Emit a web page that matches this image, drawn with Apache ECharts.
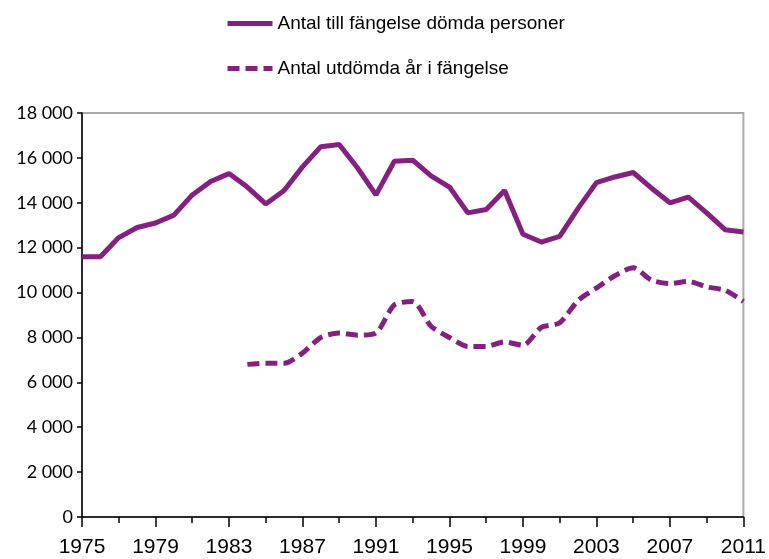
<!DOCTYPE html>
<html>
<head>
<meta charset="utf-8">
<script src="https://cdn.jsdelivr.net/npm/echarts@6/dist/echarts.min.js"></script>
<style>
  html, body { margin: 0; padding: 0; background: #fff; }
  #chart { width: 769px; height: 559px; }
</style>
</head>
<body>
<div id="chart"></div>
<script>
// years on the x axis
const years = [1975, 1976, 1977, 1978, 1979, 1980, 1981, 1982, 1983, 1984,
  1985, 1986, 1987, 1988, 1989, 1990, 1991, 1992, 1993, 1994,
  1995, 1996, 1997, 1998, 1999, 2000, 2001, 2002, 2003, 2004,
  2005, 2006, 2007, 2008, 2009, 2010, 2011]

// Antal till fängelse dömda personer (1975-2011)
const personer = [11600, 11600, 12450, 12900, 13100, 13450, 14350, 14950, 15300, 14700,
  13950, 14550, 15600, 16500, 16600, 15550, 14350, 15850, 15900, 15200,
  14700, 13550, 13700, 14550, 12600, 12250, 12500, 13750, 14900, 15150,
  15350, 14650, 14000, 14250, 13550, 12800, 12700]

// Antal utdömda år i fängelse (1984-2011)
const arYears = [1984, 1985, 1986, 1987, 1988, 1989, 1990, 1991, 1992, 1993,
  1994, 1995, 1996, 1997, 1998, 1999, 2000, 2001, 2002, 2003,
  2004, 2005, 2006, 2007, 2008, 2009, 2010, 2011]
const ar = [6800, 6850, 6850, 7300, 8000, 8200, 8100, 8200, 9450, 9600,
  8500, 8000, 7600, 7600, 7800, 7650, 8450, 8650, 9650, 10200,
  10750, 11100, 10550, 10400, 10500, 10250, 10100, 9600]

const purple = '#84207f'

const dom = echarts.init(document.getElementById('chart'))
const option = {
  animation: false,
  legend: {
    orient: 'vertical',
    left: 220,
    top: 9,
    itemWidth: 45,
    itemHeight: 20,
    itemGap: 26,
    itemStyle: { opacity: 0 },
    lineStyle: { width: 5 },
    textStyle: {
      fontFamily: 'Liberation Sans',
      fontSize: 19,
      color: '#000'
    },
    data: ['Antal till fängelse dömda personer', 'Antal utdömda år i fängelse']
  },
  grid: {
    left: 82,
    right: 24,
    top: 113,
    bottom: 42,
    show: true,
    borderColor: '#aaa',
    borderWidth: 2
  },
  xAxis: {
    type: 'value',
    min: 1975,
    max: 2011,
    interval: 4,
    splitLine: { show: false },
    axisLine: { lineStyle: { color: '#000', width: 1.5 } },
    axisTick: { length: 10, lineStyle: { color: '#000', width: 1.5 } },
    minorTick: { show: true, splitNumber: 2, length: 6, lineStyle: { color: '#000', width: 1.5 } },
    axisLabel: {
      margin: 20,
      fontFamily: 'Liberation Sans',
      fontSize: 21,
      color: '#000',
      formatter: v => String(v)
    }
  },
  yAxis: {
    type: 'value',
    min: 0,
    max: 18000,
    interval: 2000,
    splitLine: { show: false },
    axisLine: { show: true, lineStyle: { color: '#000', width: 1.5 } },
    axisTick: { show: true, length: 5, lineStyle: { color: '#000', width: 1.5 } },
    axisLabel: {
      margin: 9,
      fontFamily: 'Lato',
      fontSize: 18,
      color: '#000',
      formatter: v => String(v).replace(/\B(?=(\d{3})+(?!\d))/g, ' ')
    }
  },
  series: [
    {
      name: 'Antal till fängelse dömda personer',
      type: 'line',
      symbol: 'none',
      color: purple,
      lineStyle: { color: purple, width: 5 },
      data: years.map((y, i) => [y, personer[i]])
    },
    {
      name: 'Antal utdömda år i fängelse',
      type: 'line',
      symbol: 'none',
      smooth: 0.25,
      color: purple,
      lineStyle: { color: purple, width: 5, type: [12, 6] },
      data: arYears.map((y, i) => [y, ar[i]])
    }
  ]
}
dom.setOption(option)
window.addEventListener('resize', () => dom.resize())
</script>
</body>
</html>
